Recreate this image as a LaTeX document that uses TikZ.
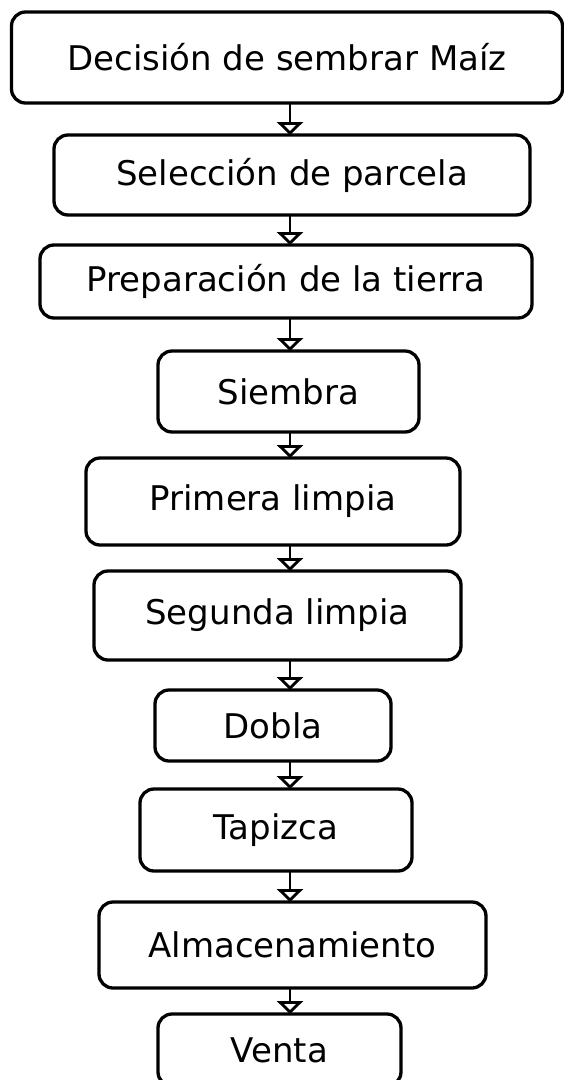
\documentclass[tikz,border=0pt]{standalone}
\usepackage{fontspec}
\setmainfont{DejaVu Sans}
\usepackage{tikz}
\usetikzlibrary{arrows.meta,positioning}

\begin{document}
\begin{tikzpicture}[
  x=1pt, y=1pt,
  paso/.style={rectangle, draw, line width=3.3pt, rounded corners=14pt,
               inner sep=0pt, outer sep=0pt, align=center,
               font=\fontsize{34}{40}\selectfont},
  flecha/.style={-{Triangle[open, length=13pt, width=26pt]}, line width=2.8pt},
]
  \clip (0,0) rectangle (564,-1080);
  \coordinate (col) at (290,0);

  \node[paso, minimum width=551pt, minimum height=91pt] (decision) at (287,-57.5) {Decisión de sembrar Maíz};
  \node[paso, minimum width=476pt, minimum height=80pt, below=32pt of decision, xshift=5pt] (parcela) {Selección de parcela};
  \node[paso, minimum width=492pt, minimum height=73pt, below=30pt of parcela, xshift=-6pt] (tierra) {Preparación de la tierra};
  \node[paso, minimum width=261pt, minimum height=81pt, below=33pt of tierra, xshift=2.5pt] (siembra) {Siembra};
  \node[paso, minimum width=374pt, minimum height=87pt, below=26pt of siembra, xshift=-15.5pt] (limpia1) {Primera limpia};
  \node[paso, minimum width=367pt, minimum height=89pt, below=26pt of limpia1, xshift=4.5pt] (limpia2) {Segunda limpia};
  \node[paso, minimum width=236pt, minimum height=71pt, below=30pt of limpia2, xshift=-4.5pt] (dobla) {Dobla};
  \node[paso, minimum width=272pt, minimum height=82pt, below=28pt of dobla, xshift=3pt] (tapizca) {Tapizca};
  \node[paso, minimum width=387pt, minimum height=86pt, below=31pt of tapizca, xshift=16.5pt] (almacen) {Almacenamiento};
  \node[paso, minimum width=243pt, minimum height=72pt, below=26pt of almacen, xshift=-13pt] (venta) {Venta};

  \draw[flecha] (decision.south -| col) -- (parcela.north -| col);
  \draw[flecha] (parcela.south -| col) -- (tierra.north -| col);
  \draw[flecha] (tierra.south -| col) -- (siembra.north -| col);
  \draw[flecha] (siembra.south -| col) -- (limpia1.north -| col);
  \draw[flecha] (limpia1.south -| col) -- (limpia2.north -| col);
  \draw[flecha] (limpia2.south -| col) -- (dobla.north -| col);
  \draw[flecha] (dobla.south -| col) -- (tapizca.north -| col);
  \draw[flecha] (tapizca.south -| col) -- (almacen.north -| col);
  \draw[flecha] (almacen.south -| col) -- (venta.north -| col);
\end{tikzpicture}
\end{document}
